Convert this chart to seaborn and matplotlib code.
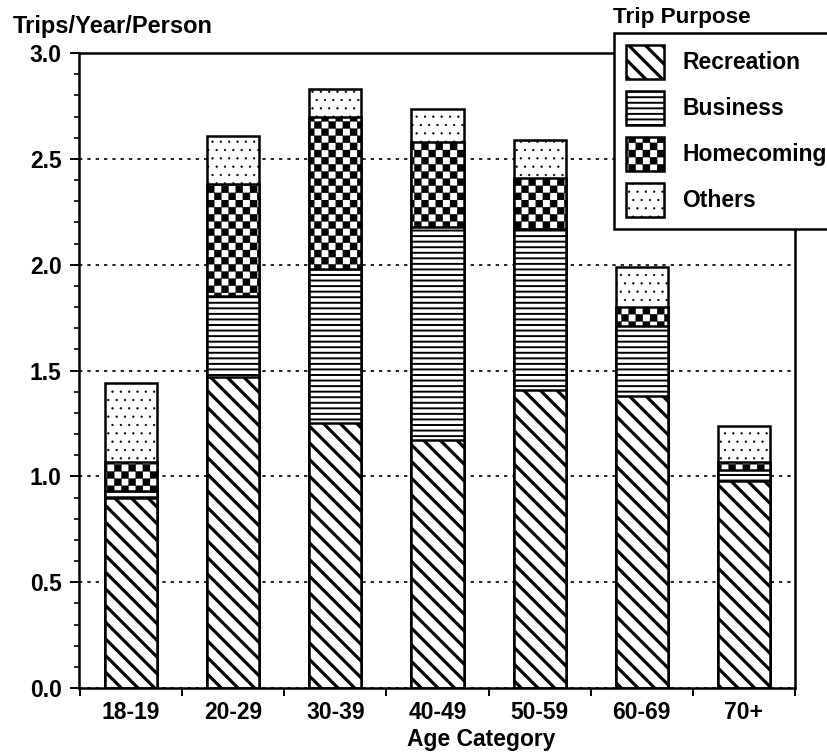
import warnings
warnings.filterwarnings('ignore')
import numpy as np
import pandas as pd
import matplotlib
matplotlib.use('Agg')
import matplotlib.pyplot as plt
import matplotlib.hatch as mhatch
from matplotlib.path import Path
from matplotlib.ticker import MultipleLocator, FormatStrFormatter
import seaborn as sns

# ---------------- data ----------------
categories = ['18-19', '20-29', '30-39', '40-49', '50-59', '60-69', '70+']
recreation = [0.90, 1.47, 1.25, 1.17, 1.41, 1.38, 0.98]
business = [0.03, 0.38, 0.73, 1.01, 0.76, 0.33, 0.05]
homecoming = [0.14, 0.53, 0.72, 0.40, 0.24, 0.09, 0.04]
others = [0.37, 0.23, 0.13, 0.155, 0.18, 0.19, 0.17]
purposes = ['Recreation', 'Business', 'Homecoming', 'Others']


# ---------------- custom checkerboard hatch ----------------
class CheckerHatch(mhatch.HatchPatternBase):
    def __init__(self, hatch, density):
        self.n = hatch.count('c') * 14
        self.num_vertices = (self.n * self.n // 2) * 5 if self.n else 0

    def set_vertices_and_codes(self, vertices, codes):
        s = 1.0 / self.n
        k = 0
        for i in range(self.n):
            for j in range(self.n):
                if (i + j) % 2 == 0:
                    x0, y0 = i * s, j * s
                    vertices[k:k + 5] = [(x0, y0), (x0 + s, y0), (x0 + s, y0 + s),
                                         (x0, y0 + s), (x0, y0)]
                    codes[k:k + 5] = [Path.MOVETO, Path.LINETO, Path.LINETO,
                                      Path.LINETO, Path.CLOSEPOLY]
                    k += 5


mhatch._hatch_types.append(CheckerHatch)


def set_hlw(artist, hlw):
    """Per-artist hatch line width."""
    if hasattr(artist, 'set_hatch_linewidth'):
        artist.set_hatch_linewidth(hlw)
    if hasattr(artist, '_hatch_linewidth'):
        artist._hatch_linewidth = hlw
    orig = artist.draw

    def draw(renderer, _orig=orig, _hlw=hlw):
        with plt.rc_context({'hatch.linewidth': _hlw}):
            _orig(renderer)
    artist.draw = draw


sns.set_theme(style='white', rc={
    'text.color': 'black', 'axes.labelcolor': 'black',
    'xtick.color': 'black', 'ytick.color': 'black',
    'axes.edgecolor': 'black', 'hatch.color': 'black',
    'hatch.linewidth': 1.5,
})
plt.rcParams['font.family'] = ['Liberation Sans', 'DejaVu Sans']
plt.rcParams['font.weight'] = 'bold'

df = pd.DataFrame({'Age': categories, 'Recreation': recreation,
                   'Business': business, 'Homecoming': homecoming,
                   'Others': others})
cum = df[purposes].cumsum(axis=1)

fig = plt.figure(figsize=(8.27, 7.53), dpi=100)
ax = fig.add_axes([0.0955, 0.0863, 0.8658, 0.8433])

layers = [('Others', '..', 0.4),
          ('Homecoming', 'c', 0.2),
          ('Business', '---', 1.4),
          ('Recreation', '\\\\', 2.3)]
hatch_lw = {name: hlw for name, _, hlw in layers}
handles = {}
for name, hatch, hlw in layers:
    n0 = len(ax.patches)
    sns.barplot(x=df['Age'], y=cum[name], color='white', edgecolor='black',
                linewidth=1.8, width=0.51, saturation=1, errorbar=None, ax=ax)
    for p in ax.patches[n0:]:
        p.set_facecolor('white')
        p.set_edgecolor('black')
        p.set_hatch(hatch)
        set_hlw(p, hlw)
    handles[name] = ax.patches[n0]

ax.set_xlabel('')
ax.set_ylabel('')
ax.set_xlim(-0.51, 6.5)
ax.set_ylim(0, 3.0)

FS = 16.5
# y ticks
ax.yaxis.set_major_locator(MultipleLocator(0.5))
ax.yaxis.set_minor_locator(MultipleLocator(0.1))
ax.yaxis.set_major_formatter(FormatStrFormatter('%.1f'))
ax.tick_params(axis='y', which='major', direction='out', length=6.5, width=1.4,
               labelsize=FS, pad=6, left=True)
ax.tick_params(axis='y', which='minor', direction='out', length=3.6, width=1.2,
               left=True)
# x ticks: labels under bars, tick marks at category boundaries
ax.set_xticks(range(len(categories)))
ax.set_xticklabels(categories)
ax.set_xticks(np.arange(-0.5, len(categories), 1.0), minor=True)
ax.tick_params(axis='x', which='major', length=0, pad=9.5, labelsize=FS,
               bottom=True)
ax.tick_params(axis='x', which='minor', direction='out', length=6, width=1.4,
               bottom=True)
for lab in ax.get_xticklabels() + ax.get_yticklabels():
    lab.set_fontweight('bold')

# gridlines
ax.yaxis.grid(True, which='major', linestyle=(0, (2, 3)), color='black',
              linewidth=1.2)
ax.xaxis.grid(False)
ax.set_axisbelow(True)

for sp in ax.spines.values():
    sp.set_visible(True)
    sp.set_color('black')
    sp.set_linewidth(1.8)

# legend
leg = ax.legend(handles=[handles[n] for n in purposes], labels=purposes,
                loc='upper left', bbox_to_anchor=(614 / 827, 1 - 33 / 753),
                bbox_transform=fig.transFigure, frameon=True, fancybox=False,
                shadow=False, framealpha=1,
                prop={'weight': 'bold', 'size': FS},
                handlelength=1.66, handleheight=1.91, labelspacing=0.52,
                handletextpad=0.79, borderpad=0.52, borderaxespad=0)
leg.get_frame().set_edgecolor('black')
leg.get_frame().set_linewidth(1.8)
for name, lp in zip(purposes, leg.get_patches()):
    set_hlw(lp, hatch_lw[name])

# texts
fig.text(13 / 827, 1 - 33 / 753, 'Trips/Year/Person', fontsize=17,
         fontweight='bold', ha='left', va='baseline')
fig.text(613 / 827, 1 - 23 / 753, 'Trip Purpose', fontsize=16.2,
         fontweight='bold', ha='left', va='baseline')
fig.text(481 / 827, 1 - 746 / 753, 'Age Category', fontsize=FS,
         fontweight='bold', ha='center', va='baseline')

fig.savefig('out.png', dpi=100)
